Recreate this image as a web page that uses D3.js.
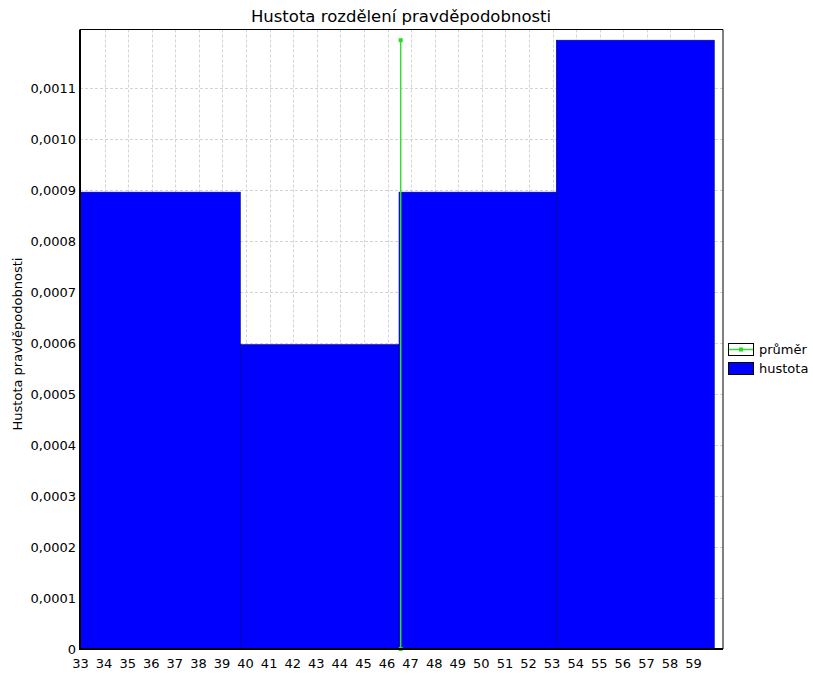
<!DOCTYPE html>
<html>
<head>
<meta charset="utf-8">
<script src="https://cdn.jsdelivr.net/npm/d3@7"></script>
<style>
body { margin: 0; background: #fff; }
text { font-family: "DejaVu Sans", Verdana, sans-serif; }
</style>
</head>
<body>
<script>
// histogram data
var binEdges = [33, 39.8, 46.53, 53.2, 59.9];
var densities = [0.000896, 0.000597, 0.000896, 0.001194];
var meanValue = 46.6;
var xTicks = d3.range(33, 60);
var yTicks = [0, 0.0001, 0.0002, 0.0003, 0.0004, 0.0005, 0.0006, 0.0007, 0.0008, 0.0009, 0.0010, 0.0011];

var w = 813;
var h = 675;
var pLeft = 80, pRight = 723, pTop = 29.5, pBottom = 649;

var x = d3.scaleLinear().domain([33, 60.27]).range([pLeft, pRight]);
var y = d3.scaleLinear().domain([0, 0.001215]).range([pBottom, pTop]);

var locale = d3.formatLocale({decimal: ",", thousands: " ", grouping: [3], currency: ["", ""]});
var fmt = locale.format(".4f");

var svg = d3.select("body")
	.append("svg")
	.attr("width", w)
	.attr("height", h);

// title
svg.append("text")
	.attr("x", 401)
	.attr("y", 22)
	.attr("text-anchor", "middle")
	.style("font-size", "16.5px")
	.text("Hustota rozdělení pravděpodobnosti");

// grid
svg.append("g")
	.selectAll("line")
	.data(xTicks.slice(1))
	.enter()
	.append("line")
	.attr("x1", function(d) { return Math.round(x(d)) + 1.5; })
	.attr("x2", function(d) { return Math.round(x(d)) + 1.5; })
	.attr("y1", pTop)
	.attr("y2", pBottom)
	.attr("stroke", "#d4d4d4")
	.attr("stroke-dasharray", "3,2");

svg.append("g")
	.selectAll("line")
	.data(yTicks.slice(1))
	.enter()
	.append("line")
	.attr("x1", pLeft)
	.attr("x2", pRight)
	.attr("y1", function(d) { return Math.round(y(d)) + 0.5; })
	.attr("y2", function(d) { return Math.round(y(d)) + 0.5; })
	.attr("stroke", "#d4d4d4")
	.attr("stroke-dasharray", "3,2");

// bars
var bins = densities.map(function(d, i) {
	return {x0: binEdges[i], x1: binEdges[i + 1], value: d};
});

svg.append("g")
	.selectAll("rect")
	.data(bins)
	.enter()
	.append("rect")
	.attr("x", function(d) { return x(d.x0); })
	.attr("width", function(d) { return x(d.x1) - x(d.x0); })
	.attr("y", function(d) { return y(d.value); })
	.attr("height", function(d) { return pBottom - y(d.value); })
	.attr("fill", "#0000ff")
	.attr("stroke", "#00007a")
	.attr("stroke-width", 0.6);

// mean line
var meanTop = y(d3.max(densities));
svg.append("line")
	.attr("x1", x(meanValue))
	.attr("x2", x(meanValue))
	.attr("y1", meanTop)
	.attr("y2", pBottom)
	.attr("stroke", "#33dd33")
	.attr("stroke-width", 1.5);

svg.selectAll("rect.mk")
	.data([meanTop, pBottom])
	.enter()
	.append("rect")
	.attr("class", "mk")
	.attr("x", x(meanValue) - 2)
	.attr("y", function(d) { return d - 2; })
	.attr("width", 4)
	.attr("height", 4)
	.attr("fill", "#22dd22");

// frame
svg.append("path")
	.attr("d", "M" + pLeft + "," + pTop + "H" + pRight + "V" + pBottom)
	.attr("fill", "none")
	.attr("stroke", "#000")
	.attr("stroke-width", 1);

svg.append("path")
	.attr("d", "M" + pLeft + "," + pTop + "V" + pBottom + "H" + pRight)
	.attr("fill", "none")
	.attr("stroke", "#000")
	.attr("stroke-width", 2);

// axes labels
var xAxis = d3.axisBottom(x).tickValues(xTicks).tickSize(0).tickPadding(10);
var gx = svg.append("g")
	.attr("transform", "translate(0," + pBottom + ")")
	.call(xAxis);
gx.select(".domain").remove();
gx.selectAll("text").style("font-size", "13px").attr("fill", "#000")
	.attr("font-family", "DejaVu Sans");

var yAxis = d3.axisLeft(y).tickValues(yTicks).tickSize(0).tickPadding(4)
	.tickFormat(function(d) { return d === 0 ? "0" : fmt(d); });
var gy = svg.append("g")
	.attr("transform", "translate(" + pLeft + ",0)")
	.call(yAxis);
gy.select(".domain").remove();
gy.selectAll("text").style("font-size", "13px").attr("fill", "#000")
	.attr("font-family", "DejaVu Sans");

svg.append("text")
	.attr("transform", "translate(22,344) rotate(-90)")
	.attr("text-anchor", "middle")
	.style("font-size", "13px")
	.text("Hustota pravděpodobnosti");

// legend
var legendItems = ["průměr", "hustota"];
var lg = svg.append("g").attr("transform", "translate(728,343)");

lg.append("rect").attr("x", 0.5).attr("y", 0.5).attr("width", 25).attr("height", 12)
	.attr("fill", "#fff").attr("stroke", "#000");
lg.append("line").attr("x1", 1).attr("x2", 25).attr("y1", 6.5).attr("y2", 6.5)
	.attr("stroke", "#33dd33").attr("stroke-width", 1.5);
lg.append("rect").attr("x", 11).attr("y", 4.5).attr("width", 4).attr("height", 4).attr("fill", "#22dd22");

lg.append("rect").attr("x", 0.5).attr("y", 19.5).attr("width", 25).attr("height", 12)
	.attr("fill", "#0000ff").attr("stroke", "#000");

lg.selectAll("text.lab")
	.data(legendItems)
	.enter()
	.append("text")
	.attr("class", "lab")
	.attr("x", 31)
	.attr("y", function(d, i) { return 11 + i * 19; })
	.style("font-size", "13px")
	.text(function(d) { return d; });
</script>
</body>
</html>
